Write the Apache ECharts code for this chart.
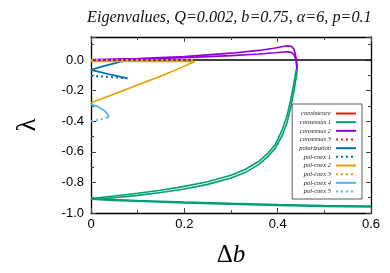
<!DOCTYPE html>
<html><head><meta charset="utf-8">
<script src="https://cdn.jsdelivr.net/npm/echarts@6/dist/echarts.min.js"></script>
<style>html,body{margin:0;padding:0;background:#fff}#c{width:390px;height:273px}</style>
</head><body><div id="c"></div>
<script>
const xTicks = [0, 0.2, 0.4, 0.6];
const yTicks = [-1.0, -0.8, -0.6, -0.4, -0.2, 0.0];
const legendNames = ['consistence','consensus 1','consensus 2','consensus 3','polarization','pol-coex 1','pol-coex 2','pol-coex 3','pol-coex 4','pol-coex 5'];
const zeroLine = [[0,0],[0.6,0]];
const consistence = [];
const consensus1A = [[0,-0.905],[0.05,-0.889],[0.1,-0.871],[0.15,-0.851],[0.2,-0.826],[0.25,-0.796],[0.3,-0.753],[0.33,-0.716],[0.36,-0.662],[0.38,-0.607],[0.395,-0.552],[0.41,-0.455],[0.42,-0.365],[0.428,-0.26],[0.434,-0.165],[0.438,-0.095],[0.44,-0.06]];
const consensus1B = [[0,-0.91],[0.05,-0.9],[0.1,-0.885],[0.15,-0.866],[0.2,-0.843],[0.25,-0.813],[0.3,-0.771],[0.33,-0.736],[0.36,-0.682],[0.38,-0.628],[0.395,-0.576],[0.41,-0.492],[0.42,-0.41],[0.428,-0.31],[0.435,-0.2],[0.44,-0.11],[0.442,-0.06]];
const consensus1Low = [[0,-0.908],[0.05,-0.915],[0.1,-0.921],[0.2,-0.931],[0.3,-0.94],[0.4,-0.948],[0.5,-0.954],[0.6,-0.958]];
const consensus2A = [[0,0],[0.1,0.009],[0.2,0.022],[0.3,0.044],[0.36,0.062],[0.395,0.078],[0.412,0.088],[0.422,0.092],[0.43,0.088],[0.435,0.07],[0.438,0.035],[0.44,0],[0.441,-0.06]];
const consensus2B = [[0,0],[0.1,0.006],[0.2,0.015],[0.3,0.028],[0.36,0.039],[0.395,0.047],[0.412,0.052],[0.422,0.053],[0.43,0.048],[0.435,0.035],[0.439,0.005],[0.441,-0.03],[0.442,-0.06]];
const consensus3 = [];
const polarization = [[0.072,-0.005],[0.05,-0.022],[0.025,-0.042],[0,-0.065],[0.02,-0.08],[0.045,-0.098],[0.078,-0.12]];
const polCoex1 = [[0,-0.105],[0.02,-0.107],[0.04,-0.111],[0.06,-0.116],[0.078,-0.121]];
const polCoex2 = [[0,-0.28],[0.05,-0.222],[0.1,-0.163],[0.15,-0.105],[0.19,-0.055],[0.21,-0.027],[0.222,-0.01],[0.15,-0.01],[0.1,-0.01],[0,-0.01]];
const polCoex3 = [[0,0],[0.222,0]];
const polCoex4 = [[0,-0.29],[0.015,-0.305],[0.028,-0.33],[0.035,-0.352],[0.038,-0.368],[0.035,-0.38]];
const polCoex5 = [[0,-0.398],[0.015,-0.393],[0.028,-0.383],[0.036,-0.372]];

const RED='#e51e10', GREEN='#009e73', PURPLE='#9400d3', BLUE='#0072b2', ORANGE='#e69f00', LBLUE='#56b4e9';
const DOT=[2,3];
function s(name, data, color, type, width, z){
  return {name:name, type:'line', data:data, showSymbol:false, symbol:'none', silent:true, animation:false,
    lineStyle:{color:color, width:width||1.8, type:type||'solid'}, itemStyle:{color:color}, z:z||2};
}
const chart = echarts.init(document.getElementById('c'));
const ax = {
  type:'value', min:0, max:0.6, interval:0.2,
  axisLine:{show:true, onZero:false, lineStyle:{color:'#000', width:1.3}},
  axisTick:{show:true, inside:true, length:5, lineStyle:{color:'#444', width:1}},
  minorTick:{show:true, splitNumber:2, length:3, lineStyle:{color:'#444', width:1}},
  splitLine:{show:false}
};
const ay = {
  type:'value', min:-1.0, max:0.15, interval:0.2,
  axisLine:{show:true, onZero:false, lineStyle:{color:'#000', width:1.3}},
  axisTick:{show:true, inside:true, length:5, lineStyle:{color:'#444', width:1}},
  minorTick:{show:true, splitNumber:2, length:3, lineStyle:{color:'#444', width:1}},
  splitLine:{show:false}
};
chart.setOption({
  animation:false,
  backgroundColor:'#fff',
  title:{text:'Eigenvalues, Q=0.002, b=0.75, α=6, p=0.1', left:82, top:5,
    textStyle:{fontFamily:'Liberation Serif', fontStyle:'italic', fontWeight:'normal', fontSize:16.2, color:'#111'}},
  grid:{left:91, right:19, top:37, bottom:60},
  legend:{data:legendNames, orient:'vertical', right:28, top:104, align:'right',
    itemWidth:20, itemHeight:6, itemGap:1.67, padding:[6,5,4,7],
    itemStyle:{opacity:0},
    borderColor:'#333', borderWidth:0.8, backgroundColor:'#fff',
    textStyle:{fontFamily:'Liberation Serif', fontStyle:'italic', fontSize:6.5, lineHeight:6, color:'#222'}},
  xAxis:[
    Object.assign({}, ax, {position:'bottom',
      axisLabel:{show:true, margin:5, fontFamily:'Liberation Sans', fontSize:13, color:'#000',
        formatter:v=> xTicks.some(t=>Math.abs(t-v)<1e-9)? (v===0?'0':v.toFixed(1)) : ''},
      name:'{d|Δ}{b|b}', nameLocation:'middle', nameGap:30,
      nameTextStyle:{rich:{d:{fontFamily:'Liberation Serif', fontSize:25, color:'#000'}, b:{fontFamily:'Liberation Serif', fontStyle:'italic', fontSize:25, color:'#000'}}}}),
    Object.assign({}, ax, {position:'top', axisLabel:{show:false}})
  ],
  yAxis:[
    Object.assign({}, ay, {position:'left',
      axisLabel:{show:true, margin:7, showMaxLabel:false, fontFamily:'Liberation Sans', fontSize:13, color:'#000',
        formatter:v=> yTicks.some(t=>Math.abs(t-v)<1e-9)? v.toFixed(1) : ''},
      name:'λ', nameLocation:'middle', nameGap:50, nameRotate:90,
      nameTextStyle:{fontFamily:'Liberation Serif', fontSize:27, color:'#000'}}),
    Object.assign({}, ay, {position:'right', axisLabel:{show:false}})
  ],
  series:[
    s('zero', zeroLine, '#000', 'solid', 1.5, 1),
    s('consistence', consistence, RED, 'solid', 1.8),
    s('consensus 1', consensus1A, GREEN, 'solid', 1.6),
    s('consensus 1', consensus1B, GREEN, 'solid', 1.6),
    s('consensus 1', consensus1Low, GREEN, 'solid', 2.4),
    s('consensus 2', consensus2A, PURPLE, 'solid', 1.7, 3),
    s('consensus 2', consensus2B, PURPLE, 'solid', 1.7, 3),
    s('consensus 3', consensus3, RED, DOT, 2),
    s('polarization', polarization, BLUE, 'solid', 1.7),
    s('pol-coex 1', polCoex1, BLUE, DOT, 2),
    s('pol-coex 2', polCoex2, ORANGE, 'solid', 1.6),
    s('pol-coex 3', polCoex3, ORANGE, DOT, 2, 4),
    s('pol-coex 4', polCoex4, LBLUE, 'solid', 1.7),
    s('pol-coex 5', polCoex5, LBLUE, DOT, 2)
  ]
});
</script></body></html>
